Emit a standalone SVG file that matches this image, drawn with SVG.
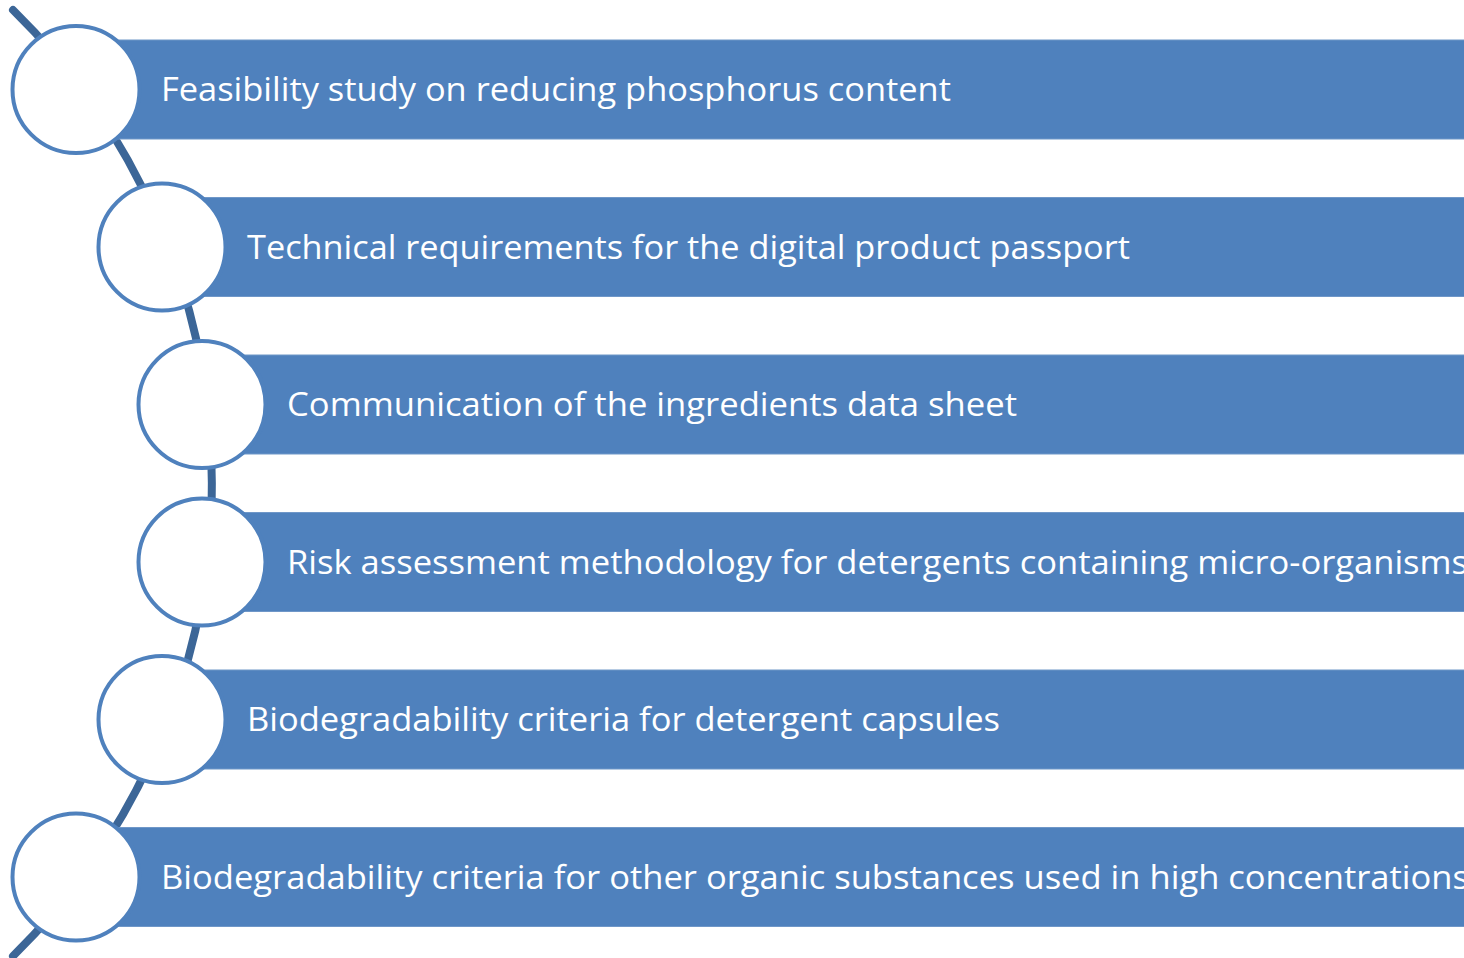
<svg xmlns="http://www.w3.org/2000/svg" width="1464" height="958" viewBox="0 0 1464 958">
<style>
.bar{fill:#4f81bd;stroke:#6f97c8;stroke-width:1}
.node{fill:#ffffff;stroke:#4f81bd;stroke-width:4}
.lbl{fill:#ffffff;font-family:"Open Sans","Noto Sans","Liberation Sans",sans-serif;font-size:33px}
.arc{fill:none;stroke:#3c6697;stroke-width:8;stroke-linecap:round}
</style>
<rect width="1464" height="958" fill="#ffffff"/>
<g id="connectors">
<path class="arc" d="M 13 10 A 662 662 0 0 1 13 956"/>
</g>
<g id="item1">
<rect class="bar" x="76" y="40" width="1390" height="99"/>
<circle class="node" cx="76" cy="89.5" r="63.5"/>
<text class="lbl" x="161" y="101" textLength="790" lengthAdjust="spacingAndGlyphs">Feasibility study on reducing phosphorus content</text>
</g>
<g id="item2">
<rect class="bar" x="162" y="197.5" width="1304" height="99"/>
<circle class="node" cx="162" cy="247" r="63.5"/>
<text class="lbl" x="247" y="258.5" textLength="883" lengthAdjust="spacingAndGlyphs">Technical requirements for the digital product passport</text>
</g>
<g id="item3">
<rect class="bar" x="202" y="355" width="1264" height="99"/>
<circle class="node" cx="202" cy="404.5" r="63.5"/>
<text class="lbl" x="287" y="416" textLength="730" lengthAdjust="spacingAndGlyphs">Communication of the ingredients data sheet</text>
</g>
<g id="item4">
<rect class="bar" x="202" y="512.5" width="1264" height="99"/>
<circle class="node" cx="202" cy="562" r="63.5"/>
<text class="lbl" x="287" y="573.5" textLength="1181" lengthAdjust="spacingAndGlyphs">Risk assessment methodology for detergents containing micro-organisms</text>
</g>
<g id="item5">
<rect class="bar" x="162" y="670" width="1304" height="99"/>
<circle class="node" cx="162" cy="719.5" r="63.5"/>
<text class="lbl" x="247" y="731" textLength="753" lengthAdjust="spacingAndGlyphs">Biodegradability criteria for detergent capsules</text>
</g>
<g id="item6">
<rect class="bar" x="76" y="827.5" width="1390" height="99"/>
<circle class="node" cx="76" cy="877" r="63.5"/>
<text class="lbl" x="161" y="888.5" textLength="1308" lengthAdjust="spacingAndGlyphs">Biodegradability criteria for other organic substances used in high concentrations</text>
</g>
</svg>
